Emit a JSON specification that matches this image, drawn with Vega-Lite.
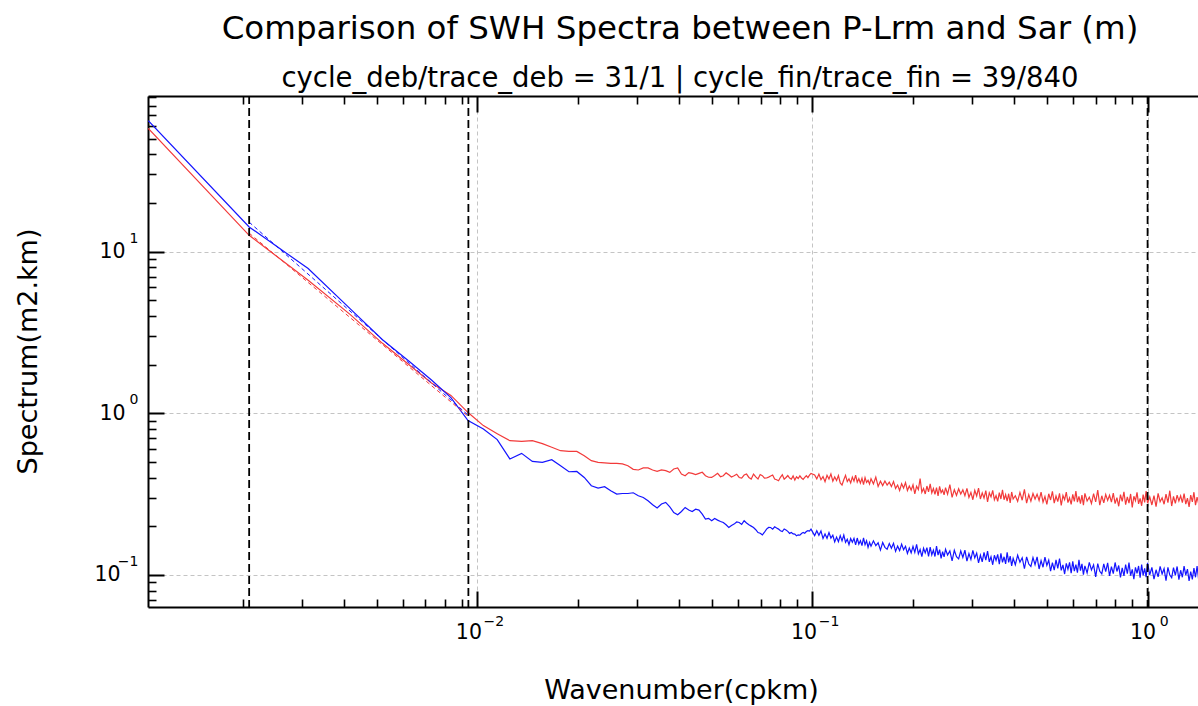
{
  "$schema": "https://vega.github.io/schema/vega-lite/v6.json",
  "width": 1050,
  "height": 511,
  "autosize": {"type": "none"},
  "padding": {"left": 148, "top": 96, "right": 0, "bottom": 99},
  "background": "white",
  "config": {"view": {"stroke": null}, "font": "DejaVu Sans"},
  "title": {
    "text": "Comparison of SWH Spectra between P-Lrm and Sar (m)",
    "subtitle": "cycle_deb/trace_deb = 31/1 | cycle_fin/trace_fin = 39/840",
    "anchor": "middle", "frame": "group",
    "font": "DejaVu Sans", "fontSize": 32.5, "fontWeight": "normal", "color": "black",
    "subtitleFont": "DejaVu Sans", "subtitleFontSize": 27.5, "subtitleColor": "black",
    "subtitlePadding": 19, "offset": 3, "dx": 7
  },
  "datasets": {
    "spec": [
      {"k":0.001042,"r":57.8,"b":64.4},{"k":0.002084,"r":12.6,"b":14.2},{"k":0.003126,"r":6.64,"b":7.85},{"k":0.004168,"r":4.09,"b":4.44},
      {"k":0.00521,"r":2.707,"b":2.85},{"k":0.006252,"r":1.994,"b":2.1},{"k":0.007294,"r":1.541,"b":1.606},{"k":0.008336,"r":1.29,"b":1.25},
      {"k":0.009378,"r":1.01,"b":0.901},{"k":0.01042,"r":0.839,"b":0.8},{"k":0.01146,"r":0.748,"b":0.687},{"k":0.0125,"r":0.677,"b":0.522},
      {"k":0.01355,"r":0.671,"b":0.565},{"k":0.01459,"r":0.677,"b":0.504},{"k":0.01563,"r":0.649,"b":0.497},{"k":0.01667,"r":0.616,"b":0.5165},
      {"k":0.01771,"r":0.587,"b":0.474},{"k":0.01876,"r":0.581,"b":0.435},{"k":0.0198,"r":0.581,"b":0.437},{"k":0.02084,"r":0.547,"b":0.401},
      {"k":0.02188,"r":0.509,"b":0.3565},{"k":0.02292,"r":0.497,"b":0.345},{"k":0.02397,"r":0.493,"b":0.3515},{"k":0.025,"r":0.49,"b":0.332},
      {"k":0.02605,"r":0.49,"b":0.3165},{"k":0.02709,"r":0.486,"b":0.319},{"k":0.02813,"r":0.474,"b":0.319},{"k":0.02918,"r":0.45,"b":0.3225},
      {"k":0.03022,"r":0.446,"b":0.309},{"k":0.03126,"r":0.459,"b":0.3017},{"k":0.0323,"r":0.459,"b":0.2878},{"k":0.03334,"r":0.446,"b":0.272},
      {"k":0.03439,"r":0.437,"b":0.2594},{"k":0.03543,"r":0.446,"b":0.2746},{"k":0.03647,"r":0.4415,"b":0.281},{"k":0.03751,"r":0.431,"b":0.264},
      {"k":0.03855,"r":0.452,"b":0.2435},{"k":0.0396,"r":0.459,"b":0.2357},{"k":0.04064,"r":0.421,"b":0.247},{"k":0.04168,"r":0.411,"b":0.2616},
      {"k":0.04376,"r":0.425,"b":0.247},{"k":0.04585,"r":0.425,"b":0.252},{"k":0.04793,"r":0.411,"b":0.2217},{"k":0.05002,"r":0.401,"b":0.2164},
      {"k":0.0521,"r":0.425,"b":0.2185},{"k":0.05418,"r":0.411,"b":0.2112},{"k":0.05627,"r":0.417,"b":0.1966},{"k":0.05835,"r":0.411,"b":0.2064},
      {"k":0.06044,"r":0.401,"b":0.2112},{"k":0.06252,"r":0.415,"b":0.2164},{"k":0.0646,"r":0.401,"b":0.2043},{"k":0.06669,"r":0.421,"b":0.1966},
      {"k":0.06877,"r":0.392,"b":0.1831},{"k":0.07086,"r":0.411,"b":0.1772},{"k":0.07294,"r":0.398,"b":0.1922},{"k":0.07502,"r":0.409,"b":0.1966},
      {"k":0.07711,"r":0.392,"b":0.1986},{"k":0.07919,"r":0.383,"b":0.1922},{"k":0.08128,"r":0.417,"b":0.1857},{"k":0.08336,"r":0.401,"b":0.1895},
      {"k":0.08649,"r":0.392,"b":0.1831},{"k":0.08961,"r":0.405,"b":0.1747},{"k":0.09274,"r":0.398,"b":0.1805},{"k":0.09586,"r":0.411,"b":0.1857},
      {"k":0.09899,"r":0.425,"b":0.1922},
      {"k":0.04272,"r":0.43,"b":0.252},{"k":0.0448,"r":0.418,"b":0.255},{"k":0.04689,"r":0.432,"b":0.238},{"k":0.04897,"r":0.402,"b":0.224},
      {"k":0.05106,"r":0.412,"b":0.2235},{"k":0.05314,"r":0.405,"b":0.2142},{"k":0.05523,"r":0.428,"b":0.2043},{"k":0.05731,"r":0.404,"b":0.2025},
      {"k":0.0594,"r":0.42,"b":0.2128},{"k":0.06148,"r":0.397,"b":0.2055},{"k":0.06356,"r":0.421,"b":0.2098},{"k":0.06565,"r":0.392,"b":0.2005},
      {"k":0.06773,"r":0.404,"b":0.1905},{"k":0.06981,"r":0.418,"b":0.1812},{"k":0.0719,"r":0.397,"b":0.1838},{"k":0.07398,"r":0.403,"b":0.1968},
      {"k":0.07606,"r":0.415,"b":0.1922},{"k":0.07815,"r":0.388,"b":0.1951},{"k":0.08023,"r":0.402,"b":0.1878},{"k":0.08232,"r":0.391,"b":0.1925},
      {"k":0.0844,"r":0.412,"b":0.1862},{"k":0.08544,"r":0.398,"b":0.1808},{"k":0.08753,"r":0.41,"b":0.1795},{"k":0.08857,"r":0.386,"b":0.1788},
      {"k":0.09065,"r":0.395,"b":0.1772},{"k":0.0917,"r":0.41,"b":0.1762},{"k":0.09378,"r":0.39,"b":0.1835},{"k":0.09482,"r":0.402,"b":0.1812},
      {"k":0.0969,"r":0.4,"b":0.1881},{"k":0.09795,"r":0.414,"b":0.1868},
      {"k":0.1015,"r":0.416,"b":0.1752},{"k":0.103,"r":0.393,"b":0.188},{"k":0.1045,"r":0.421,"b":0.1759},{"k":0.106,"r":0.388,"b":0.1874},
      {"k":0.1075,"r":0.406,"b":0.168},{"k":0.109,"r":0.378,"b":0.1794},{"k":0.1105,"r":0.414,"b":0.1687},{"k":0.112,"r":0.392,"b":0.183},
      {"k":0.1135,"r":0.422,"b":0.1692},{"k":0.115,"r":0.38,"b":0.1761},{"k":0.1165,"r":0.404,"b":0.1602},{"k":0.118,"r":0.384,"b":0.1716},
      {"k":0.1195,"r":0.412,"b":0.1608},{"k":0.121,"r":0.371,"b":0.1752},{"k":0.1225,"r":0.36,"b":0.1625},{"k":0.124,"r":0.388,"b":0.1767},
      {"k":0.1255,"r":0.413,"b":0.1592},{"k":0.127,"r":0.378,"b":0.1664},{"k":0.1285,"r":0.393,"b":0.1539},{"k":0.13,"r":0.371,"b":0.1679},
      {"k":0.1315,"r":0.403,"b":0.1595},{"k":0.133,"r":0.38,"b":0.1686},{"k":0.1345,"r":0.414,"b":0.1535},{"k":0.136,"r":0.375,"b":0.1693},
      {"k":0.1375,"r":0.394,"b":0.1552},{"k":0.139,"r":0.37,"b":0.1632},{"k":0.1405,"r":0.397,"b":0.1521},{"k":0.142,"r":0.362,"b":0.1696},
      {"k":0.1435,"r":0.4,"b":0.1538},{"k":0.145,"r":0.374,"b":0.1627},{"k":0.1465,"r":0.385,"b":0.1482},{"k":0.148,"r":0.365,"b":0.1592},
      {"k":0.1495,"r":0.394,"b":0.1505},
      {"k":0.152,"r":0.366,"b":0.1626},{"k":0.1545,"r":0.403,"b":0.1519},{"k":0.157,"r":0.353,"b":0.1582},{"k":0.1595,"r":0.38,"b":0.1426},
      {"k":0.162,"r":0.357,"b":0.1587},{"k":0.1645,"r":0.381,"b":0.1482},{"k":0.167,"r":0.36,"b":0.1445},{"k":0.1695,"r":0.375,"b":0.1566},
      {"k":0.172,"r":0.352,"b":0.1462},{"k":0.1745,"r":0.378,"b":0.1571},{"k":0.177,"r":0.343,"b":0.14},{"k":0.1795,"r":0.36,"b":0.1508},
      {"k":0.182,"r":0.333,"b":0.1415},{"k":0.1845,"r":0.367,"b":0.1553},{"k":0.187,"r":0.345,"b":0.1434},{"k":0.1895,"r":0.373,"b":0.1506},
      {"k":0.192,"r":0.333,"b":0.136},{"k":0.1945,"r":0.355,"b":0.1468},{"k":0.197,"r":0.335,"b":0.1371},{"k":0.1995,"r":0.361,"b":0.1505},
      {"k":0.202,"r":0.317,"b":0.1381},{"k":0.2045,"r":0.354,"b":0.1548},{"k":0.207,"r":0.337,"b":0.135},{"k":0.2095,"r":0.395,"b":0.1437},
      {"k":0.212,"r":0.325,"b":0.1297},{"k":0.2145,"r":0.343,"b":0.1462},{"k":0.217,"r":0.317,"b":0.1368},{"k":0.2195,"r":0.355,"b":0.1476},
      {"k":0.222,"r":0.327,"b":0.1304},{"k":0.2245,"r":0.366,"b":0.1489},{"k":0.227,"r":0.322,"b":0.133},{"k":0.2295,"r":0.343,"b":0.1425},
      {"k":0.232,"r":0.315,"b":0.1301},{"k":0.2345,"r":0.347,"b":0.1507},{"k":0.237,"r":0.308,"b":0.1328},{"k":0.2395,"r":0.353,"b":0.1435},
      {"k":0.242,"r":0.323,"b":0.1268},{"k":0.2445,"r":0.335,"b":0.1396},{"k":0.247,"r":0.313,"b":0.1295},{"k":0.2495,"r":0.347,"b":0.1444},
      {"k":0.253,"r":0.316,"b":0.1329},{"k":0.257,"r":0.362,"b":0.1409},{"k":0.261,"r":0.302,"b":0.1223},{"k":0.265,"r":0.337,"b":0.1423},
      {"k":0.269,"r":0.31,"b":0.1298},{"k":0.273,"r":0.341,"b":0.1258},{"k":0.277,"r":0.317,"b":0.1408},{"k":0.281,"r":0.336,"b":0.1284},
      {"k":0.285,"r":0.309,"b":0.1423},{"k":0.289,"r":0.343,"b":0.1217},{"k":0.293,"r":0.302,"b":0.1355},{"k":0.297,"r":0.324,"b":0.1246},
      {"k":0.301,"r":0.292,"b":0.1419},{"k":0.305,"r":0.334,"b":0.1276},{"k":0.309,"r":0.308,"b":0.1366},{"k":0.313,"r":0.344,"b":0.1189},
      {"k":0.317,"r":0.295,"b":0.1326},{"k":0.321,"r":0.322,"b":0.1207},{"k":0.325,"r":0.299,"b":0.1378},{"k":0.329,"r":0.332,"b":0.1236},
      {"k":0.333,"r":0.283,"b":0.1406},{"k":0.337,"r":0.322,"b":0.1207},{"k":0.341,"r":0.304,"b":0.1297},{"k":0.345,"r":0.334,"b":0.1157},
      {"k":0.349,"r":0.292,"b":0.1325},{"k":0.353,"r":0.31,"b":0.1231},{"k":0.357,"r":0.285,"b":0.1342},{"k":0.361,"r":0.323,"b":0.1168},
      {"k":0.365,"r":0.295,"b":0.1359},{"k":0.369,"r":0.336,"b":0.1198},{"k":0.373,"r":0.292,"b":0.1296},{"k":0.377,"r":0.314,"b":0.117},
      {"k":0.381,"r":0.286,"b":0.1381},{"k":0.385,"r":0.318,"b":0.1198},{"k":0.389,"r":0.279,"b":0.1308},{"k":0.393,"r":0.326,"b":0.1138},
      {"k":0.397,"r":0.295,"b":0.1268},
      {"k":0.403,"r":0.309,"b":0.1157},{"k":0.4095,"r":0.285,"b":0.1325},{"k":0.416,"r":0.324,"b":0.1199},{"k":0.4225,"r":0.29,"b":0.1279},
      {"k":0.429,"r":0.338,"b":0.1093},{"k":0.4355,"r":0.278,"b":0.1295},{"k":0.442,"r":0.314,"b":0.1169},{"k":0.4485,"r":0.286,"b":0.1129},
      {"k":0.455,"r":0.319,"b":0.1281},{"k":0.4615,"r":0.295,"b":0.1157},{"k":0.468,"r":0.316,"b":0.1295},{"k":0.4745,"r":0.289,"b":0.1089},
      {"k":0.481,"r":0.325,"b":0.1227},{"k":0.4875,"r":0.282,"b":0.1117},{"k":0.494,"r":0.306,"b":0.1289},{"k":0.5005,"r":0.273,"b":0.1145},
      {"k":0.507,"r":0.318,"b":0.1234},{"k":0.5135,"r":0.291,"b":0.1056},{"k":0.52,"r":0.329,"b":0.1191},{"k":0.5265,"r":0.278,"b":0.1071},
      {"k":0.533,"r":0.308,"b":0.124},{"k":0.5395,"r":0.284,"b":0.1098},{"k":0.546,"r":0.32,"b":0.1265},{"k":0.5525,"r":0.269,"b":0.1067},
      {"k":0.559,"r":0.31,"b":0.1154},{"k":0.5655,"r":0.292,"b":0.1014},{"k":0.572,"r":0.325,"b":0.1179},{"k":0.5785,"r":0.28,"b":0.1085},
      {"k":0.585,"r":0.3,"b":0.1196},{"k":0.5915,"r":0.273,"b":0.1028},{"k":0.598,"r":0.315,"b":0.1215},{"k":0.6045,"r":0.285,"b":0.1058},
      {"k":0.611,"r":0.33,"b":0.1158},{"k":0.6175,"r":0.282,"b":0.1033},{"k":0.624,"r":0.306,"b":0.1243},{"k":0.6305,"r":0.276,"b":0.1065},
      {"k":0.637,"r":0.312,"b":0.1173},{"k":0.6435,"r":0.27,"b":0.1006},{"k":0.65,"r":0.32,"b":0.1138},
      {"k":0.66,"r":0.287,"b":0.103},{"k":0.67,"r":0.303,"b":0.1198},{"k":0.68,"r":0.277,"b":0.1075},{"k":0.69,"r":0.319,"b":0.1156},
      {"k":0.7,"r":0.283,"b":0.0974},{"k":0.71,"r":0.335,"b":0.1176},{"k":0.72,"r":0.27,"b":0.1054},{"k":0.73,"r":0.309,"b":0.1016},
      {"k":0.74,"r":0.279,"b":0.1171},{"k":0.75,"r":0.315,"b":0.1049},{"k":0.76,"r":0.289,"b":0.119},{"k":0.77,"r":0.311,"b":0.0987},
      {"k":0.78,"r":0.282,"b":0.1128},{"k":0.79,"r":0.321,"b":0.1019},{"k":0.8,"r":0.276,"b":0.1195},{"k":0.81,"r":0.301,"b":0.1051},
      {"k":0.82,"r":0.266,"b":0.1144},{"k":0.83,"r":0.314,"b":0.0966},{"k":0.84,"r":0.285,"b":0.1105},{"k":0.85,"r":0.327,"b":0.0986},
      {"k":0.86,"r":0.272,"b":0.1161},{"k":0.87,"r":0.304,"b":0.1018},{"k":0.88,"r":0.278,"b":0.1192},{"k":0.89,"r":0.317,"b":0.0992},
      {"k":0.9,"r":0.262,"b":0.1083},{"k":0.91,"r":0.307,"b":0.0943},{"k":0.92,"r":0.288,"b":0.1116},{"k":0.93,"r":0.324,"b":0.1022},
      {"k":0.94,"r":0.275,"b":0.1137},{"k":0.95,"r":0.298,"b":0.0962},{"k":0.96,"r":0.268,"b":0.1158},{"k":0.97,"r":0.314,"b":0.0995},
      {"k":0.98,"r":0.281,"b":0.1098},{"k":0.99,"r":0.33,"b":0.097},{"k":1.0,"r":0.278,"b":0.1189},
      {"k":1.015,"r":0.304,"b":0.1002},{"k":1.03,"r":0.271,"b":0.1115},{"k":1.045,"r":0.31,"b":0.0942},{"k":1.06,"r":0.265,"b":0.1077},
      {"k":1.075,"r":0.32,"b":0.0973},{"k":1.09,"r":0.284,"b":0.1132},{"k":1.105,"r":0.3,"b":0.1015},{"k":1.12,"r":0.274,"b":0.1094},
      {"k":1.135,"r":0.316,"b":0.0921},{"k":1.15,"r":0.28,"b":0.1114},{"k":1.165,"r":0.332,"b":0.0999},{"k":1.18,"r":0.267,"b":0.0963},
      {"k":1.195,"r":0.306,"b":0.1109},{"k":1.21,"r":0.277,"b":0.0995},{"k":1.225,"r":0.312,"b":0.1129},{"k":1.24,"r":0.287,"b":0.0936},
      {"k":1.255,"r":0.309,"b":0.107},{"k":1.27,"r":0.28,"b":0.0968},{"k":1.285,"r":0.319,"b":0.1134},{"k":1.3,"r":0.274,"b":0.0999},
      {"k":1.315,"r":0.299,"b":0.1087},{"k":1.33,"r":0.264,"b":0.0918},{"k":1.345,"r":0.312,"b":0.1051},{"k":1.36,"r":0.283,"b":0.0938},
      {"k":1.375,"r":0.325,"b":0.1104},{"k":1.39,"r":0.27,"b":0.0968},{"k":1.405,"r":0.303,"b":0.1134},{"k":1.42,"r":0.277,"b":0.0944},
      {"k":1.435,"r":0.316,"b":0.1032},{"k":1.45,"r":0.261,"b":0.0897},{"k":1.465,"r":0.306,"b":0.1062},{"k":1.48,"r":0.287,"b":0.0972}
    ],
    "fit": [
      {"k":0.002084,"r":13.0,"b":15.2},{"k":0.0094,"r":0.955,"b":0.97}
    ],
    "vl": [{"k":0.002084},{"k":0.0094},{"k":1.0}]
  },
  "resolve": {"axis": {"x": "independent", "y": "independent"}},
  "layer": [
    {
      "data": {"name": "spec"},
      "mark": {"type": "line", "color": "#f23a3a", "strokeWidth": 1.2, "clip": true},
      "encoding": {
        "x": {"field": "k", "type": "quantitative",
          "scale": {"type": "log", "domain": [0.00104, 1.414], "nice": false},
          "axis": {"orient": "bottom", "values": [0.01, 0.1, 1],
            "tickSize": -16, "tickWidth": 2, "tickColor": "black",
            "domain": true, "domainColor": "black", "domainWidth": 2,
            "labelExpr": "'10'",
            "labelFont": "DejaVu Sans", "labelFontSize": 20.5, "labelColor": "black", "labelPadding": 31,
            "labelOffset": {"condition": {"test": "datum.value < 0.5", "value": -9}, "value": -5},
            "labelAlign": "center",
            "labelFlush": false, "labelOverlap": false, "labelBound": false,
            "grid": true, "gridColor": "#c4c4c4", "gridDash": [4, 3], "gridWidth": 1,
            "title": "Wavenumber(cpkm)", "titleFont": "DejaVu Sans", "titleFontSize": 27, "titleFontWeight": "normal",
            "titleColor": "black", "titleX": 533, "titleY": 83, "titleBaseline": "middle", "titleAlign": "center"}},
        "y": {"field": "r", "type": "quantitative",
          "scale": {"type": "log", "domain": [0.0634, 91.6], "nice": false},
          "axis": {"orient": "left", "values": [0.1, 1, 10],
            "tickSize": -16, "tickWidth": 2, "tickColor": "black",
            "domain": true, "domainColor": "black", "domainWidth": 2,
            "labelExpr": "'10'",
            "labelFont": "DejaVu Sans", "labelFontSize": 20.5, "labelColor": "black",
            "labelPadding": {"condition": {"test": "datum.value < 0.5", "value": 44}, "value": 39},
            "labelFlush": false, "labelOverlap": false, "labelBound": false,
            "grid": true, "gridColor": "#c4c4c4", "gridDash": [4, 3], "gridWidth": 1,
            "title": "Spectrum(m2.km)", "titleFont": "DejaVu Sans", "titleFontSize": 27, "titleFontWeight": "normal",
            "titleColor": "black", "titleX": -120, "titleY": 255, "titleBaseline": "middle", "titleAlign": "center", "titleAngle": -90}}
      }
    },
    {
      "data": {"name": "spec"},
      "mark": {"type": "line", "color": "#1414ff", "strokeWidth": 1.2, "clip": true},
      "encoding": {
        "x": {"field": "k", "type": "quantitative",
          "scale": {"type": "log", "domain": [0.00104, 1.414], "nice": false},
          "axis": {"orient": "bottom", "values": [0.002,0.003,0.004,0.005,0.006,0.007,0.008,0.009,0.02,0.03,0.04,0.05,0.06,0.07,0.08,0.09,0.2,0.3,0.4,0.5,0.6,0.7,0.8,0.9],
            "tickSize": -8, "tickWidth": 1.6, "tickColor": "black", "labels": false, "domain": false, "grid": false, "title": null}},
        "y": {"field": "b", "type": "quantitative",
          "scale": {"type": "log", "domain": [0.0634, 91.6], "nice": false},
          "axis": {"orient": "left", "values": [0.07,0.08,0.09,0.2,0.3,0.4,0.5,0.6,0.7,0.8,0.9,2,3,4,5,6,7,8,9,20,30,40,50,60,70,80,90],
            "tickSize": -8, "tickWidth": 1.6, "tickColor": "black", "labels": false, "domain": false, "grid": false, "title": null}}
      }
    },
    {
      "data": {"name": "fit"},
      "mark": {"type": "line", "color": "#f23a3a", "strokeWidth": 1, "strokeDash": [4, 3], "clip": true},
      "encoding": {
        "x": {"field": "k", "type": "quantitative",
          "scale": {"type": "log", "domain": [0.00104, 1.414], "nice": false},
          "axis": {"orient": "top", "values": [0.01, 0.1, 1],
            "tickSize": -16, "tickWidth": 2, "tickColor": "black", "labels": false,
            "domain": true, "domainColor": "black", "domainWidth": 2, "grid": false, "title": null}},
        "y": {"field": "r", "type": "quantitative",
          "scale": {"type": "log", "domain": [0.0634, 91.6], "nice": false},
          "axis": {"orient": "left", "values": [0.1, 1, 10],
            "tickSize": -16, "tickOpacity": 0, "domain": false, "grid": false, "title": null,
            "labelExpr": "datum.value < 0.5 ? '−1' : datum.value < 5 ? '0' : '1'",
            "labelFont": "DejaVu Sans", "labelFontSize": 14, "labelColor": "black", "labelPadding": 26,
            "labelOffset": -13.5, "labelBaseline": "middle",
            "labelFlush": false, "labelOverlap": false, "labelBound": false}}
      }
    },
    {
      "data": {"name": "fit"},
      "mark": {"type": "line", "color": "#1414ff", "strokeWidth": 1, "strokeDash": [4, 3], "clip": true},
      "encoding": {
        "x": {"field": "k", "type": "quantitative",
          "scale": {"type": "log", "domain": [0.00104, 1.414], "nice": false},
          "axis": {"orient": "top", "values": [0.002,0.003,0.004,0.005,0.006,0.007,0.008,0.009,0.02,0.03,0.04,0.05,0.06,0.07,0.08,0.09,0.2,0.3,0.4,0.5,0.6,0.7,0.8,0.9],
            "tickSize": -8, "tickWidth": 1.6, "tickColor": "black", "labels": false, "domain": false, "grid": false, "title": null}},
        "y": {"field": "b", "type": "quantitative",
          "scale": {"type": "log", "domain": [0.0634, 91.6], "nice": false}, "axis": null}
      }
    },
    {
      "data": {"name": "fit"},
      "mark": {"type": "line", "opacity": 0, "clip": true},
      "encoding": {
        "x": {"field": "k", "type": "quantitative",
          "scale": {"type": "log", "domain": [0.00104, 1.414], "nice": false},
          "axis": {"orient": "bottom", "values": [0.01, 0.1, 1],
            "tickSize": -16, "tickOpacity": 0, "domain": false, "grid": false, "title": null,
            "labelExpr": "datum.value < 0.05 ? '−2' : datum.value < 0.5 ? '−1' : '0'",
            "labelFont": "DejaVu Sans", "labelFontSize": 14, "labelColor": "black", "labelPadding": 23.5,
            "labelOffset": 16, "labelAlign": "center",
            "labelFlush": false, "labelOverlap": false, "labelBound": false}},
        "y": {"field": "r", "type": "quantitative",
          "scale": {"type": "log", "domain": [0.0634, 91.6], "nice": false}, "axis": null}
      }
    },
    {
      "data": {"name": "vl"},
      "mark": {"type": "rule", "color": "black", "strokeWidth": 1.8, "strokeDash": [8, 4]},
      "encoding": {
        "x": {"field": "k", "type": "quantitative",
          "scale": {"type": "log", "domain": [0.00104, 1.414], "nice": false}, "axis": null}
      }
    }
  ]
}
